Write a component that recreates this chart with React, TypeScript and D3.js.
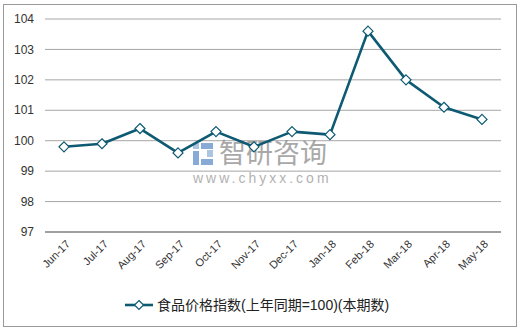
import React from "react"
import { scaleBand, scaleLinear, line } from "d3"

const months = ["Jun-17", "Jul-17", "Aug-17", "Sep-17", "Oct-17", "Nov-17", "Dec-17", "Jan-18", "Feb-18", "Mar-18", "Apr-18", "May-18"]
const values = [99.8, 99.9, 100.4, 99.6, 100.3, 99.8, 100.3, 100.2, 103.6, 102.0, 101.1, 100.7]
const yTicks = [97, 98, 99, 100, 101, 102, 103, 104]
const seriesName = "食品价格指数(上年同期=100)(本期数)"

const width = 521
const height = 329
const margin = { top: 19, right: 20, bottom: 97, left: 45 }
const color = "#0d5a72"
const font = "Arial, 'Liberation Sans', 'Noto Sans CJK SC', sans-serif"

function App() {
  const innerWidth = width - margin.left - margin.right
  const innerHeight = height - margin.top - margin.bottom

  const xScale = scaleBand().domain(months).range([0, innerWidth])
  const yScale = scaleLinear().domain([97, 104]).range([innerHeight, 0])

  const xPos = (d: string) => (xScale(d) ?? 0) + xScale.bandwidth() / 2

  const path = line<number>()
    .x((_, i) => xPos(months[i]))
    .y((d) => yScale(d))(values)

  const diamond = (cx: number, cy: number, r: number) =>
    `M${cx},${cy - r}L${cx + r},${cy}L${cx},${cy + r}L${cx - r},${cy}Z`

  return (
    <svg width={width} height={height} style={{ position: "absolute", left: 0, top: 0, fontFamily: font }}>
      <rect x={0} y={0} width={width} height={height} fill="#fff" />
      <rect x={3.5} y={4.5} width={513} height={322} fill="none" stroke="#9a9a9a" strokeWidth={1} />
      <g transform={`translate(${margin.left}, ${margin.top})`}>
        {yTicks.map((t) => (
          <g key={t} transform={`translate(0, ${yScale(t)})`}>
            <line x2={innerWidth} stroke={t === 97 ? "#7f7f7f" : "#a6a6a6"} strokeWidth={t === 97 ? 1.5 : 1} />
            <text x={-11} dy="0.35em" textAnchor="end" fontSize={12} fill="#333">{t}</text>
          </g>
        ))}
        {months.map((m) => (
          <text
            key={m}
            transform={`translate(${xPos(m) + 4}, ${innerHeight + 10}) rotate(-45)`}
            textAnchor="end"
            dy="0.35em"
            fontSize={11}
            fill="#333"
          >{m}</text>
        ))}
        {/* watermark */}
        <g opacity={0.75}>
          <rect x={148} y={124} width={6} height={6} fill="#8fb1d8" />
          <rect x={148} y={132} width={6} height={14} fill="#5f8fc9" />
          <rect x={156} y={124} width={12} height={6} fill="#5f8fc9" />
          <rect x={162} y={131} width={6} height={7} fill="#8fb1d8" />
          <rect x={156} y={140} width={12} height={6} fill="#5f8fc9" />
          <text x={174} y={144} fontSize={27} fill="#8c8c8c" fontFamily="'Noto Sans CJK SC', sans-serif">智研咨询</text>
          <text x={148} y={164} fontSize={14} fill="#999" letterSpacing={3}>www.chyxx.com</text>
        </g>
        <path d={path ?? ""} fill="none" stroke={color} strokeWidth={2.6} strokeLinejoin="round" />
        {values.map((v, i) => (
          <path key={months[i]} d={diamond(xPos(months[i]), yScale(v), 5)} fill="#fff" stroke={color} strokeWidth={1.2} />
        ))}
      </g>
      <g transform="translate(125, 305)">
        <line x1={0} x2={28} stroke={color} strokeWidth={2.6} />
        <path d={diamond(14, 0, 4.5)} fill="#fff" stroke={color} strokeWidth={1.2} />
        <text x={32} dy="0.35em" fontSize={14} fill="#222">{seriesName}</text>
      </g>
    </svg>
  )
}

export default App
